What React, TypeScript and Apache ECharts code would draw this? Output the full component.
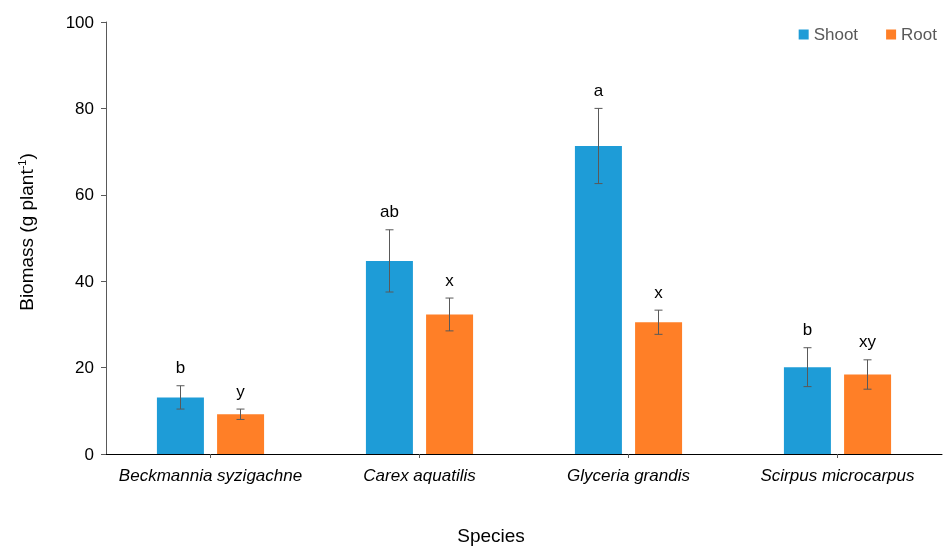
import React, { useEffect, useRef } from "react";
import * as echarts from "echarts";

const categories = ["Beckmannia syzigachne", "Carex aquatilis", "Glyceria grandis", "Scirpus microcarpus"];
const shootValues = [13.1, 44.7, 71.3, 20.1];
const shootErrors = [2.7, 7.2, 8.7, 4.5];
const shootLetters = ["b", "ab", "a", "b"];
const rootValues = [9.2, 32.3, 30.5, 18.4];
const rootErrors = [1.2, 3.8, 2.8, 3.4];
const rootLetters = ["y", "x", "x", "xy"];
const yTicks = [0, 20, 40, 60, 80, 100];

const BLUE = "#1E9CD7";
const ORANGE = "#FF7F27";
const ERR = "#595959";
const FONT = "Liberation Sans, Arial, sans-serif";

function errSeries(name: string, vals: number[], errs: number[], letters: string[], offset: number) {
  return {
    type: "custom",
    name: name + "err",
    z: 5,
    data: vals.map((v, i) => [i, v, errs[i]]),
    renderItem: (params: any, api: any) => {
      const i = api.value(0);
      const v = api.value(1);
      const e = api.value(2);
      const hi = api.coord([i, v + e]);
      const lo = api.coord([i, v - e]);
      const x = hi[0] + offset;
      const cap = 4;
      const style = { stroke: ERR, lineWidth: 1 };
      return {
        type: "group",
        children: [
          { type: "line", shape: { x1: x, y1: hi[1], x2: x, y2: lo[1] }, style },
          { type: "line", shape: { x1: x - cap, y1: hi[1], x2: x + cap, y2: hi[1] }, style },
          { type: "line", shape: { x1: x - cap, y1: lo[1], x2: x + cap, y2: lo[1] }, style },
          {
            type: "text",
            style: {
              text: letters[params.dataIndex],
              x: x,
              y: hi[1] - 18,
              align: "center",
              verticalAlign: "middle",
              fontSize: 17,
              fontFamily: FONT,
              fill: "#000",
            },
          },
        ],
      };
    },
  };
}

export default function App() {
  const ref = useRef<HTMLDivElement>(null);
  useEffect(() => {
    const chart = echarts.init(ref.current!, null, { renderer: "svg" });
    chart.setOption({
      animation: false,
      textStyle: { fontFamily: FONT },
      grid: { left: 106, right: 1, top: 22, bottom: 92 },
      legend: {
        right: 1,
        top: 21,
        itemWidth: 10,
        itemHeight: 10,
        itemGap: 28,
        icon: "rect",
        data: ["Shoot", "Root"],
        textStyle: { fontSize: 17, color: "#595959", fontFamily: FONT },
      },
      xAxis: {
        type: "category",
        data: categories,
        name: "Species",
        nameLocation: "middle",
        nameGap: 72,
        nameTextStyle: { fontSize: 19, color: "#000", fontFamily: FONT, padding: [0, 66, 0, 0] },
        axisLine: { lineStyle: { color: "#000", width: 1 } },
        axisTick: { show: true, alignWithLabel: true, length: 4, lineStyle: { color: "#595959" } },
        axisLabel: { interval: 0, fontSize: 17, fontStyle: "italic", color: "#000", margin: 13, fontFamily: FONT },
      },
      yAxis: {
        type: "value",
        min: yTicks[0],
        max: yTicks[yTicks.length - 1],
        interval: 20,
        name: "{n|Biomass (g plant}{s|-1}{n|)}",
        nameLocation: "middle",
        nameGap: 70,
        nameTextStyle: {
          padding: [0, 0, 0, 12],
          rich: {
            n: { fontSize: 19, color: "#000", fontFamily: FONT },
            s: { fontSize: 11, color: "#000", fontFamily: FONT, verticalAlign: "top", padding: [0, 0, 9, 0] },
          },
        },
        splitLine: { show: false },
        axisLine: { show: true, lineStyle: { color: "#595959", width: 1 } },
        axisTick: { show: true, length: 5, lineStyle: { color: "#595959" } },
        axisLabel: { fontSize: 17, color: "#000", margin: 12, fontFamily: FONT },
      },
      series: [
        {
          type: "bar",
          name: "Shoot",
          data: shootValues,
          barWidth: 47,
          barGap: "28%",
          itemStyle: { color: BLUE },
        },
        {
          type: "bar",
          name: "Root",
          data: rootValues,
          barWidth: 47,
          barGap: "28%",
          itemStyle: { color: ORANGE },
        },
        errSeries("Shoot", shootValues, shootErrors, shootLetters, -30),
        errSeries("Root", rootValues, rootErrors, rootLetters, 30),
      ],
    });
    return () => chart.dispose();
  }, []);
  return <div ref={ref} style={{ position: "fixed", left: 0, top: 0, width: 943, height: 550 }} />;
}
